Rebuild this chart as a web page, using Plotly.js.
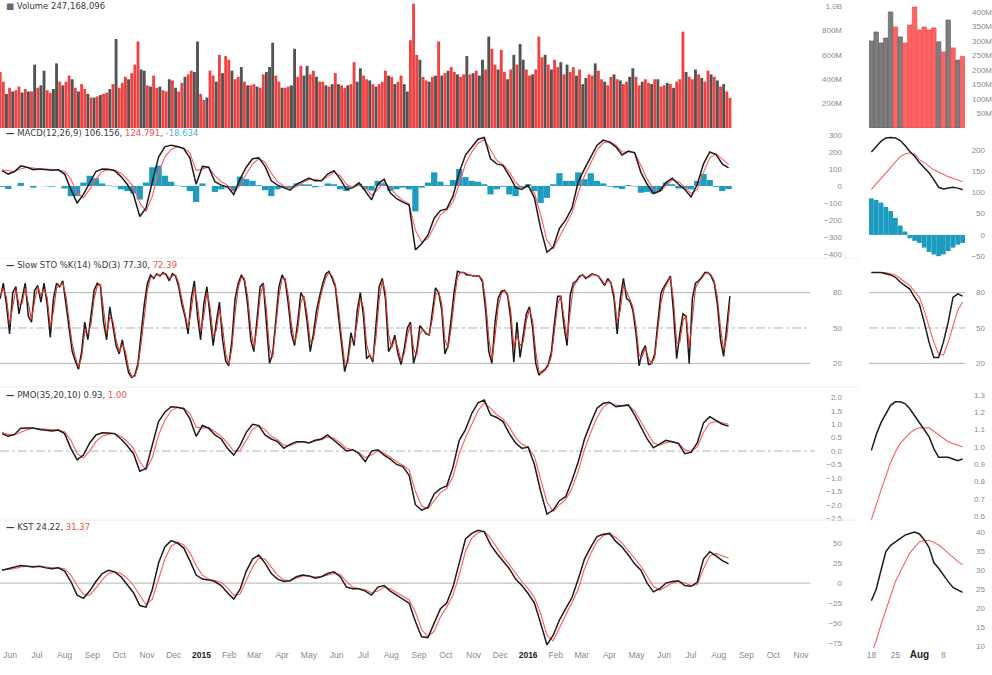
<!DOCTYPE html>
<html><head><meta charset="utf-8">
<script src="https://cdn.plot.ly/plotly-3.0.1.min.js"></script>
<style>html,body{margin:0;padding:0;background:#fff;}#chart{width:992px;height:675px;}</style>
</head><body><div id="chart"></div>
<script>
// ---------------- DATA ----------------
// main panels: weekly samples (Fridays) starting 2014-05-23, half-week samples from 2014-05-21
const weeklyStart = [2014, 4, 23];
const halfWeekStart = [2014, 4, 21];
const monthLabels = ['Jun','Jul','Aug','Sep','Oct','Nov','Dec','2015','Feb','Mar','Apr','May','Jun','Jul','Aug','Sep','Oct','Nov','Dec','2016','Feb','Mar','Apr','May','Jun','Jul','Aug','Sep','Oct','Nov'];

// volume (millions), half-week bars
const volume = [
460,380,280,330,300,310,340,290,320,300,
300,520,330,350,470,310,290,320,530,380,
350,380,430,400,330,300,360,320,280,250,
250,260,270,280,290,320,360,730,330,370,
420,400,450,520,710,480,470,350,340,430,
330,340,310,300,400,390,330,300,370,420,
440,470,460,710,280,230,250,470,430,380,
600,450,590,560,470,400,420,500,380,350,
350,360,340,330,440,460,500,700,430,380,
330,330,340,350,650,420,510,430,510,440,
470,420,380,380,350,340,360,450,360,350,
330,350,360,540,380,490,430,400,390,360,
340,360,380,470,430,420,360,380,430,360,
300,720,1020,600,560,420,390,380,420,430,
710,430,450,470,500,460,440,420,440,590,
440,450,470,430,560,480,750,650,520,480,
640,460,400,480,600,520,690,560,480,430,
440,480,750,580,600,520,480,560,500,540,
440,520,460,500,430,480,360,410,440,430,
530,470,400,380,350,420,440,400,390,360,
380,420,490,420,350,380,400,370,360,400,
400,340,350,370,360,330,380,400,790,460,
420,400,480,440,410,380,470,440,420,390,
340,360,300,247];
// 1 = up day (dark bar), 0 = down day (red bar)
const volumeUp = [
0,0,1,0,1,0,0,1,0,1, 0,1,0,1,1,0,0,1,1,0, 1,0,0,1,0,1,0,0,1,0, 1,0,1,0,0,1,0,1,0,0,
0,1,0,0,0,1,1,0,1,0, 0,1,0,0,1,0,1,0,0,1, 0,0,1,1,0,0,1,0,0,1, 0,1,0,0,1,0,0,1,0,1,
0,0,1,0,0,1,1,1,0,0, 1,0,0,1,1,0,0,1,1,0, 0,1,0,0,1,0,1,0,1,0, 0,1,0,0,1,1,0,0,1,0,
1,0,0,0,1,0,1,0,0,1, 1,0,0,0,1,0,0,1,0,1, 0,1,0,1,0,0,1,0,0,1, 0,1,0,1,1,0,1,0,0,1,
0,0,1,0,1,0,1,1,0,0, 1,0,0,0,1,0,1,0,0,1, 0,1,0,0,1,0,1,1,0,0, 1,0,0,1,0,0,1,0,1,0,
0,1,1,0,0,1,0,0,1,0, 1,0,0,1,0,1,0,0,0,1, 0,0,1,0,1,0,0,1,0,1, 0,1,0,0];

// MACD(12,26,9) weekly
const macd = [
90,70,85,118,110,95,100,98,92,95,
70,-20,-100,-50,20,85,100,98,90,55,
10,-50,-180,-130,24,170,230,240,232,220,
165,10,115,110,25,5,-5,-50,40,110,
160,165,115,30,5,-10,-25,10,30,47,
30,30,70,90,40,-20,-10,18,-30,-82,
10,40,-40,-75,-95,-112,-376,-340,-290,-190,
-145,-135,-60,80,182,230,275,285,160,130,
120,60,-10,-20,5,-70,-250,-390,-360,-250,
-200,-130,24,100,170,240,270,258,230,182,
205,195,80,10,-45,-30,20,45,10,-20,
-65,10,130,200,185,130,106];
const macdSignal = [
95,88,85,100,110,105,100,100,96,95,
85,40,-40,-70,-20,40,85,95,93,75,
40,-5,-100,-150,-60,80,170,215,230,225,
195,90,100,110,60,25,5,-30,0,70,
130,160,140,75,25,0,-15,-5,20,38,
38,32,55,80,60,10,-10,5,-10,-55,
-20,25,-10,-55,-85,-105,-260,-330,-310,-240,
-170,-140,-95,10,130,200,250,275,210,150,
125,85,20,-10,-5,-40,-170,-320,-370,-300,
-230,-160,-40,60,135,210,255,262,240,200,
200,198,120,40,-20,-35,0,35,25,-5,
-45,-20,80,165,190,160,125];
const macdHist = [
-5,-18,0,18,0,-10,0,-2,-4,0,
-15,-60,-60,20,60,45,15,3,-3,-20,
-30,-45,-80,20,110,120,60,25,2,-5,
-30,-95,15,0,-35,-20,-10,-30,55,40,
30,5,-25,-60,-20,-10,-10,15,10,9,
-8,-2,15,10,-20,-30,0,13,-20,-27,
30,15,-30,-20,-10,-20,-150,-10,20,80,
25,5,35,100,52,30,25,10,-50,-20,
-5,-50,-60,-10,10,-30,-100,-70,10,75,
30,30,80,40,75,30,15,-4,-10,-18,
5,-3,-40,-35,-45,-30,20,10,-15,-15,
-20,30,70,35,-5,-30,-19];

// Slow Stochastic %K(14) %D(3), half-week samples
const stoK = [
75,88,70,45,80,85,62,75,88,60,
55,82,86,72,88,70,42,75,88,85,
90,70,48,30,22,15,30,55,40,60,
82,88,86,55,40,68,50,35,28,40,
25,12,8,10,20,45,70,88,95,92,
96,94,97,95,90,96,94,85,70,60,
45,75,90,60,40,70,85,60,35,55,
72,40,22,18,40,75,88,95,90,70,
40,30,60,85,88,55,20,28,60,85,
95,90,70,45,35,55,80,75,55,30,
45,65,77,88,96,98,92,85,60,35,
13,24,46,35,65,80,60,24,27,21,
52,85,92,75,30,35,44,28,19,32,
50,55,20,30,52,48,45,44,65,84,
80,65,28,35,58,82,98,97,97,95,
95,94,94,94,89,65,30,20,55,75,
81,82,78,58,21,55,25,45,62,68,
50,20,10,13,15,19,30,55,77,77,
52,35,78,88,90,94,95,92,94,96,
95,94,90,86,92,88,75,45,75,92,
75,73,65,46,18,30,35,19,20,28,
55,80,85,90,94,63,24,45,62,60,
20,75,88,90,93,97,97,94,88,70,
40,26,50,77];
const stoD = [
77,84,76,53,68,83,70,71,84,69,
57,73,85,77,83,76,51,64,84,86,
88,77,55,36,25,17,25,47,45,53,
75,86,87,65,45,59,56,40,30,36,
30,16,9,9,17,37,62,82,93,93,
95,95,96,96,92,94,95,88,75,63,
50,65,85,70,47,60,80,68,43,48,
66,51,28,19,33,63,84,93,92,77,
50,33,50,77,87,66,32,25,49,77,
92,92,77,53,38,48,72,77,62,38,
40,58,73,84,93,97,94,87,68,43,
20,20,39,39,55,75,67,36,26,23,
42,74,90,81,45,33,41,33,22,28,
44,53,32,27,45,49,46,44,58,78,
81,70,40,33,50,74,93,97,97,96,
95,94,94,94,91,73,42,23,43,68,
79,82,79,65,33,44,35,38,56,66,
56,30,13,12,14,18,26,47,70,77,
60,41,64,85,89,93,95,93,93,95,
95,94,91,87,90,89,79,55,65,86,
81,74,68,52,27,26,33,24,20,25,
46,72,83,88,93,73,37,38,56,61,
33,57,84,89,92,96,97,95,90,76,
50,31,42,72];

// PMO(35,20,10) weekly
const pmo = [
0.65,0.55,0.62,0.85,0.86,0.86,0.8,0.78,0.75,0.78,
0.65,0.1,-0.33,-0.15,0.3,0.6,0.68,0.67,0.65,0.45,
0.2,-0.1,-0.75,-0.65,0.2,1.1,1.45,1.65,1.63,1.58,
1.2,0.55,0.95,0.85,0.6,0.45,0.1,-0.15,0.2,0.7,
1.0,0.95,0.6,0.45,0.35,0.1,0.25,0.35,0.35,0.3,
0.4,0.45,0.6,0.4,0.2,0.0,0.05,-0.1,-0.4,0.0,
0.05,-0.15,-0.3,-0.5,-0.58,-0.9,-2.0,-2.2,-2.1,-1.6,
-1.4,-1.3,-0.6,0.4,0.8,1.4,1.8,1.9,1.35,1.25,
1.1,0.65,0.3,0.1,0.15,-0.5,-1.5,-2.35,-2.2,-1.85,
-1.7,-1.1,-0.4,0.45,1.05,1.6,1.78,1.82,1.65,1.68,
1.72,1.35,0.9,0.45,0.12,0.25,0.4,0.35,0.28,-0.1,
-0.05,0.3,1.05,1.28,1.15,1.0,0.93];
const pmoSignal = [
0.7,0.62,0.6,0.7,0.8,0.85,0.83,0.8,0.78,0.78,
0.72,0.4,-0.1,-0.25,0.0,0.35,0.55,0.63,0.65,0.55,
0.35,0.1,-0.4,-0.7,-0.25,0.6,1.15,1.5,1.62,1.6,
1.4,0.9,0.85,0.88,0.72,0.55,0.3,0.0,0.0,0.4,
0.8,0.95,0.8,0.55,0.42,0.22,0.2,0.3,0.35,0.32,
0.36,0.42,0.52,0.48,0.3,0.1,0.05,-0.05,-0.25,-0.15,
0.0,-0.08,-0.22,-0.4,-0.53,-0.7,-1.5,-2.05,-2.15,-1.85,
-1.55,-1.4,-0.95,-0.1,0.5,1.0,1.5,1.8,1.6,1.35,
1.2,0.9,0.5,0.25,0.15,-0.2,-1.0,-1.9,-2.25,-2.0,
-1.8,-1.4,-0.75,0.05,0.7,1.25,1.65,1.8,1.72,1.68,
1.7,1.5,1.1,0.7,0.3,0.22,0.32,0.35,0.3,0.05,
-0.02,0.15,0.7,1.05,1.1,1.05,1.0];

// KST weekly
const kst = [
16,18,20,22,21,20,21,19,18,19,
15,2,-15,-19,-10,2,12,16,14,8,
-2,-12,-28,-30,-8,25,45,53,50,44,
28,10,5,4,2,-3,-12,-20,-8,15,
30,35,25,12,5,2,3,8,10,9,
6,8,12,14,8,-5,-7,-7,-10,-15,
-5,-3,-10,-15,-20,-25,-48,-67,-68,-50,
-32,-25,-5,25,55,62,66,64,48,37,
28,18,5,-3,-13,-25,-50,-77,-65,-46,
-32,-18,5,30,45,58,61,62,52,45,
35,24,16,0,-11,-7,0,2,3,-3,
-4,1,30,39,34,28,24];
const kstSignal = [
17,17,18,20,21,21,21,20,19,19,
18,10,-3,-14,-15,-6,4,12,14,12,
6,-3,-15,-27,-20,5,30,46,51,48,
38,22,10,5,3,1,-6,-15,-14,2,
20,31,30,20,10,4,3,6,9,9,
8,8,10,12,11,2,-5,-7,-8,-12,
-10,-5,-7,-12,-17,-21,-36,-58,-67,-60,
-42,-30,-15,10,40,56,63,65,56,44,
33,23,12,2,-7,-18,-38,-65,-72,-56,
-40,-26,-8,18,37,52,59,62,57,50,
41,31,21,9,-4,-9,-4,0,2,0,
-3,-2,18,34,37,34,31];

// ---- right-hand zoomed panels (daily) ----
const miniDates = ['2016-07-18','2016-07-19','2016-07-20','2016-07-21','2016-07-22','2016-07-25','2016-07-26','2016-07-27','2016-07-28','2016-07-29',
                   '2016-08-01','2016-08-02','2016-08-03','2016-08-04','2016-08-05','2016-08-08','2016-08-09','2016-08-10','2016-08-11','2016-08-12'];
const miniTickIdx = [0,5,10,15];
const miniTickLabels = ['18','25','Aug','8'];
const miniVolume = [300,331,293,310,400,348,314,293,355,417,338,348,338,345,297,262,372,276,234,247];
const miniVolumeUp = [1,1,1,1,1,0,1,0,0,0,0,0,0,0,1,0,1,0,1,0];
const miniMacd = [195,208,220,228,229,228,222,210,196,185,170,158,146,130,112,108,110,112,110,106];
const miniMacdSignal = [107,120,133,145,160,172,184,190,193,190,177,170,162,153,148,142,137,133,129,125];
const miniMacdHist = [86,82,76,66,56,40,22,8,-8,-14,-19,-30,-40,-46,-50,-46,-38,-30,-23,-19];
const miniStoK = [97,97,97,96,95,93,89,86,83,76,70,55,38,25,25,38,55,76,79,77];
const miniStoD = [97,97,97,97,96,95,92,89,86,81,76,65,52,38,28,27,38,52,65,72];
const miniPmo = [0.98,1.07,1.14,1.19,1.24,1.26,1.26,1.25,1.22,1.18,1.14,1.1,1.06,0.99,0.94,0.94,0.94,0.93,0.92,0.93];
const miniPmoSignal = [0.58,0.67,0.75,0.83,0.91,0.97,1.02,1.05,1.08,1.1,1.11,1.11,1.11,1.09,1.07,1.05,1.03,1.02,1.01,1.0];
const miniKst = [22,25,30,34.8,36.5,37.4,38.5,39.2,39.6,40,39.5,38,36,32,30.5,28.7,27,25.5,24.8,24.2];
const miniKstSignal = [8,11.5,15.7,19.5,23.5,27,29.5,32,34.5,36,37.4,37.8,37.8,37.3,36.6,35.6,34.5,33.2,32.3,31.4];

// ---------------- BUILD ----------------
const DAY = 86400000;
function fmt(ms){ return new Date(ms).toISOString().slice(0,19).replace('T',' '); }
const w0 = Date.UTC(weeklyStart[0], weeklyStart[1], weeklyStart[2]);
const h0 = Date.UTC(halfWeekStart[0], halfWeekStart[1], halfWeekStart[2]);
const weekDates = macd.map((_, i) => fmt(w0 + i*7*DAY));
const halfDates = volume.map((_, k) => fmt(h0 + k*3.5*DAY));
const monthVals = monthLabels.map((_, m) => fmt(Date.UTC(2014, 5+m, 1)));
const monthText = monthLabels.map(t => /^\d{4}$/.test(t) ? '<span style="color:#222"><b>'+t+'</b></span>' : t);
const mDates = miniDates.map(d => d + ' 12:00');

const RED = '#ff5c5c', BLK = '#1c1c1c', TEAL = '#1e9cc0', STORED = '#d8392c';
const W = 992, H = 675;
const dom = (top, bot) => [1 - bot/H, 1 - top/H];
const mainX = [0, 815/W], miniX = [869/W, 965/W];
const tf = {family:'Liberation Sans, Arial, sans-serif', size:8, color:'#8c8c8c'};

const traces = [];
traces.push({type:'bar', x:halfDates, y:volume, xaxis:'x', yaxis:'y', width:3.5*DAY*0.92,
  marker:{color:volumeUp.map(u => u ? '#454545' : '#ee3434'), line:{width:0}}, opacity:0.92});
traces.push({type:'bar', x:weekDates, y:macdHist, xaxis:'x', yaxis:'y2', width:7*DAY, marker:{color:TEAL, line:{width:0}}});
traces.push({type:'scatter', mode:'lines', x:weekDates, y:macdSignal, xaxis:'x', yaxis:'y2', line:{color:RED, width:1.1}});
traces.push({type:'scatter', mode:'lines', x:weekDates, y:macd, xaxis:'x', yaxis:'y2', line:{color:BLK, width:1.5}});
traces.push({type:'scatter', mode:'lines', x:halfDates, y:stoK, xaxis:'x', yaxis:'y3', line:{color:BLK, width:1.5}});
traces.push({type:'scatter', mode:'lines', x:halfDates, y:stoD, xaxis:'x', yaxis:'y3', line:{color:STORED, width:1.1}});
traces.push({type:'scatter', mode:'lines', x:weekDates, y:pmoSignal, xaxis:'x', yaxis:'y4', line:{color:RED, width:1.1}});
traces.push({type:'scatter', mode:'lines', x:weekDates, y:pmo, xaxis:'x', yaxis:'y4', line:{color:BLK, width:1.5}});
traces.push({type:'scatter', mode:'lines', x:weekDates, y:kstSignal, xaxis:'x', yaxis:'y5', line:{color:RED, width:1.1}});
traces.push({type:'scatter', mode:'lines', x:weekDates, y:kst, xaxis:'x', yaxis:'y5', line:{color:BLK, width:1.5}});
traces.push({type:'bar', x:mDates, y:miniVolume, xaxis:'x2', yaxis:'y6', width:DAY*0.96,
  marker:{color:miniVolumeUp.map(u => u ? '#7d7d7d' : '#ff6464'), line:{color:miniVolumeUp.map(u => u ? '#5a5a5a' : '#e84848'), width:0.6}}});
traces.push({type:'bar', x:mDates, y:miniMacdHist, xaxis:'x2', yaxis:'y7', width:DAY, marker:{color:TEAL, line:{width:0}}});
traces.push({type:'scatter', mode:'lines', x:mDates, y:miniMacdSignal, xaxis:'x2', yaxis:'y7', line:{color:RED, width:1.1}});
traces.push({type:'scatter', mode:'lines', x:mDates, y:miniMacd, xaxis:'x2', yaxis:'y7', line:{color:BLK, width:1.5}});
traces.push({type:'scatter', mode:'lines', x:mDates, y:miniStoD, xaxis:'x2', yaxis:'y8', line:{color:RED, width:1.1}});
traces.push({type:'scatter', mode:'lines', x:mDates, y:miniStoK, xaxis:'x2', yaxis:'y8', line:{color:BLK, width:1.5}});
traces.push({type:'scatter', mode:'lines', x:mDates, y:miniPmoSignal, xaxis:'x2', yaxis:'y9', line:{color:RED, width:1.1}});
traces.push({type:'scatter', mode:'lines', x:mDates, y:miniPmo, xaxis:'x2', yaxis:'y9', line:{color:BLK, width:1.5}});
traces.push({type:'scatter', mode:'lines', x:mDates, y:miniKstSignal, xaxis:'x2', yaxis:'y10', line:{color:RED, width:1.1}});
traces.push({type:'scatter', mode:'lines', x:mDates, y:miniKst, xaxis:'x2', yaxis:'y10', line:{color:BLK, width:1.5}});

function yax(domain, range, pos, extra){
  return Object.assign({domain:domain, range:range, anchor:'free', position:pos, side:'left',
    showgrid:false, zeroline:false, showline:false, ticks:'', tickfont:tf, fixedrange:true}, extra);
}
const mainPos = 842/W, miniPos = 985/W;
const dVol = dom(0,128), dMacd = dom(129,257), dSto = dom(259,386), dPmo = dom(388,520), dKst = dom(521,648);

const hline = (xref, x1, yref, y, dash) => ({type:'line', xref:xref, x0:0, x1:x1, yref:yref, y0:y, y1:y,
  line:{color:'#b4b4b4', width:1, dash:dash||'solid'}, layer:'below'});
const sep = (py) => ({type:'line', xref:'paper', x0:0, x1:858/W, yref:'paper', y0:1-py/H, y1:1-py/H, line:{color:'#ececec', width:1}});

const ann = (py, html) => ({xref:'paper', yref:'paper', x:4/W, y:1-py/H, xanchor:'left', yanchor:'middle', showarrow:false,
  text:html, font:{family:'DejaVu Sans, Verdana, sans-serif', size:8.5, color:'#3a3a3a'}});

const layout = {
  width:W, height:H, margin:{l:0, r:0, t:0, b:0}, showlegend:false,
  paper_bgcolor:'#fff', plot_bgcolor:'#fff', hovermode:false, barmode:'overlay',
  xaxis:{domain:mainX, type:'date', anchor:'y5', range:['2014-05-20 19:00:00','2016-11-16 14:00:00'],
    tickvals:monthVals, ticktext:monthText, ticks:'', showgrid:false, zeroline:false, showline:false,
    tickfont:{family:'Liberation Sans, Arial, sans-serif', size:8.5, color:'#8a8a8a'}, fixedrange:true},
  xaxis2:{domain:miniX, type:'date', anchor:'y10', range:['2016-07-18 00:00:00','2016-08-13 00:00:00'],
    rangebreaks:[{bounds:['sat','mon']}],
    tickvals:miniTickIdx.map(i => mDates[i]),
    ticktext:miniTickLabels.map(t => /^[A-Za-z]/.test(t) ? '<span style="color:#222;font-size:10px"><b>'+t+'</b></span>' : t),
    ticks:'', showgrid:false, zeroline:false, showline:false,
    tickfont:{family:'Liberation Sans, Arial, sans-serif', size:8.5, color:'#8a8a8a'}, fixedrange:true},
  yaxis: yax(dVol, [0,1050], mainPos, {tickvals:[200,400,600,800,1000], ticktext:['200M','400M','600M','800M','1.0B']}),
  yaxis2: yax(dMacd, [-418,335], mainPos, {tickvals:[-400,-300,-200,-100,0,100,200,300]}),
  yaxis3: yax(dSto, [0.8,108.5], mainPos, {tickvals:[20,50,80]}),
  yaxis4: yax(dPmo, [-2.57,2.35], mainPos, {tickvals:[-2.5,-2,-1.5,-1,-0.5,0,0.5,1,1.5,2], tickformat:'.1f'}),
  yaxis5: yax(dKst, [-81,77.5], mainPos, {tickvals:[-75,-50,-25,0,25,50]}),
  yaxis6: yax(dVol, [0,441], 1, {tickvals:[50,100,150,200,250,300,350,400], ticktext:['50M','100M','150M','200M','250M','300M','350M','400M']}),
  yaxis7: yax(dMacd, [-52,249], miniPos, {tickvals:[-50,0,50,100,150,200]}),
  yaxis8: yax(dSto, [0.8,108.5], miniPos, {tickvals:[20,50,80]}),
  yaxis9: yax(dPmo, [0.578,1.34], miniPos, {tickvals:[0.6,0.7,0.8,0.9,1.0,1.1,1.2,1.3], tickformat:'.1f'}),
  yaxis10: yax(dKst, [9.6,42.9], miniPos, {tickvals:[10,15,20,25,30,35,40]}),
  shapes:[
    hline('x domain', 0.994, 'y3', 80), hline('x domain', 0.994, 'y3', 20), hline('x domain', 0.994, 'y3', 50, 'dashdot'),
    hline('x domain', 1, 'y4', 0, 'dashdot'), hline('x domain', 0.994, 'y5', 0),
    hline('x2 domain', 1, 'y8', 80), hline('x2 domain', 1, 'y8', 20), hline('x2 domain', 1, 'y8', 50, 'dashdot'),
    sep(258), sep(387), sep(520)
  ],
  annotations:[
    ann(6, '<span style="color:#666">■</span> Volume 247,168,096'),
    ann(133, '<b>—</b> MACD(12,26,9) 106.156, <span style="color:#f0524a">124.791</span>, <span style="color:#46b4d2">-18.634</span>'),
    ann(265, '<b>—</b> Slow STO %K(14) %D(3) 77.30, <span style="color:#f0524a">72.39</span>'),
    ann(395, '<b>—</b> PMO(35,20,10) 0.93, <span style="color:#f0524a">1.00</span>'),
    ann(527, '<b>—</b> KST 24.22, <span style="color:#f0524a">31.37</span>')
  ]
};
Plotly.newPlot('chart', traces, layout, {staticPlot:true, displayModeBar:false});
</script>
</body></html>
